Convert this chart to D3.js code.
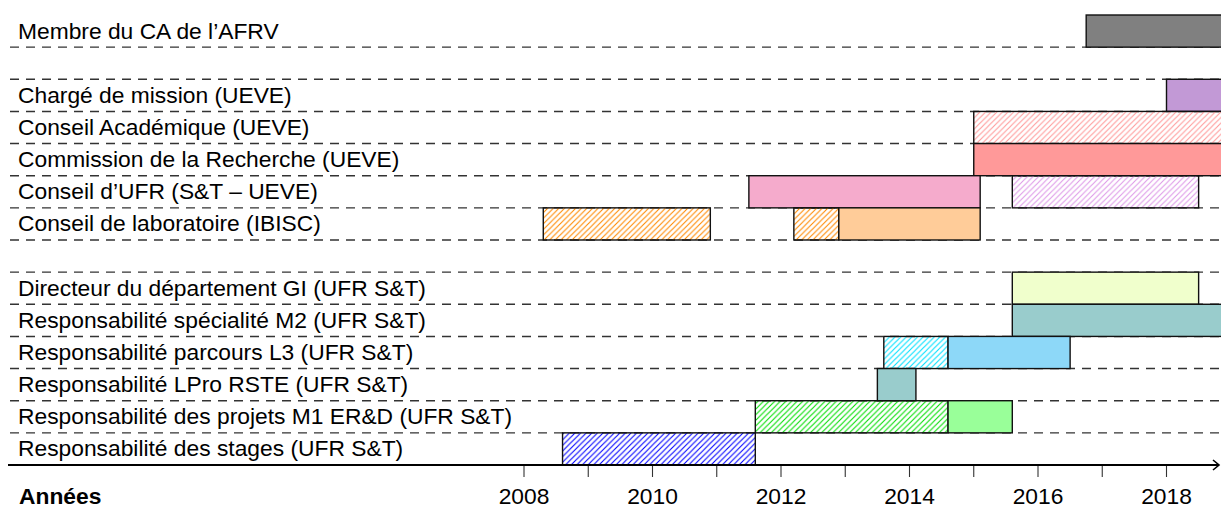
<!DOCTYPE html>
<html>
<head>
<meta charset="utf-8">
<script src="https://cdn.jsdelivr.net/npm/d3@7"></script>
<style>
  body { margin: 0; background: #fff; }
  svg { display: block; font-family: "Liberation Sans", Arial, Helvetica, sans-serif; }
</style>
</head>
<body>
<div id="chart"></div>
<script>
// rows from top to bottom, "" = empty spacer row
const rowLabels = [
  "Membre du CA de l’AFRV",
  "",
  "Chargé de mission (UEVE)",
  "Conseil Académique (UEVE)",
  "Commission de la Recherche (UEVE)",
  "Conseil d’UFR (S&T – UEVE)",
  "Conseil de laboratoire (IBISC)",
  "",
  "Directeur du département GI (UFR S&T)",
  "Responsabilité spécialité M2 (UFR S&T)",
  "Responsabilité parcours L3 (UFR S&T)",
  "Responsabilité LPro RSTE (UFR S&T)",
  "Responsabilité des projets M1 ER&D (UFR S&T)",
  "Responsabilité des stages (UFR S&T)"
];

const years = [2008, 2009, 2010, 2011, 2012, 2013, 2014, 2015, 2016, 2017, 2018];
const yearLabels = ["2008", "2010", "2012", "2014", "2016", "2018"];

// periods: row index, start, end, style key
const periodRow   = [0, 2, 3, 4, 5, 5, 6, 6, 6, 8, 9, 10, 10, 11, 12, 12, 13];
const periodStart = [2016.75, 2018.0, 2015.0, 2015.0, 2011.5, 2015.6, 2008.3, 2012.2, 2012.9,
                     2015.6, 2015.6, 2013.6, 2014.6, 2013.5, 2011.6, 2014.6, 2008.6];
const periodEnd   = [2019.5, 2019.5, 2019.5, 2019.5, 2015.1, 2018.5, 2010.9, 2012.9, 2015.1,
                     2018.5, 2019.5, 2014.6, 2016.5, 2014.1, 2014.6, 2015.6, 2011.6];
const periodStyle = ["afrv", "mission", "acaHatch", "recherche", "ufr", "ufrHatch", "laboHatch", "laboHatch", "labo",
                     "gi", "m2", "l3Hatch", "l3", "lpro", "m1Hatch", "m1", "stagesHatch"];

// look of each style
const styles = {
  afrv:        { color: "#808080", hatch: false },
  mission:     { color: "#c299d6", hatch: false },
  acaHatch:    { color: "#ff9999", hatch: true },
  recherche:   { color: "#ff9999", hatch: false },
  ufr:         { color: "#f5abcc", hatch: false },
  ufrHatch:    { color: "#dd99e8", hatch: true },
  laboHatch:   { color: "#ff8800", hatch: true },
  labo:        { color: "#ffcc99", hatch: false },
  gi:          { color: "#f0ffcc", hatch: false },
  m2:          { color: "#99cccc", hatch: false },
  l3Hatch:     { color: "#00e0ff", hatch: true },
  l3:          { color: "#8dd8f8", hatch: false },
  lpro:        { color: "#99cccc", hatch: false },
  m1Hatch:     { color: "#00dd00", hatch: true },
  m1:          { color: "#99ff99", hatch: false },
  stagesHatch: { color: "#0000ff", hatch: true }
};

const width = 1221, height = 508;
const fontSize = 22.8;

const svg = d3.select("#chart").append("svg")
  .attr("width", width)
  .attr("height", height)
  .attr("viewBox", `0 0 ${width} ${height}`);

const x = d3.scaleLinear().domain([2008, 2018]).range([524, 1166.5]);
const y = d3.scaleBand().domain(d3.range(rowLabels.length)).range([15, 465]).paddingInner(0).paddingOuter(0);

// hatch patterns, one per hatched style
const defs = svg.append("defs");
Object.entries(styles).filter(([k, s]) => s.hatch).forEach(([k, s]) => {
  const p = defs.append("pattern")
    .attr("id", "hatch-" + k)
    .attr("patternUnits", "userSpaceOnUse")
    .attr("width", 5.6)
    .attr("height", 5.6);
  p.append("path")
    .attr("d", "M-1,1 L1,-1 M0,5.6 L5.6,0 M4.6,6.6 L6.6,4.6")
    .attr("stroke", s.color)
    .attr("stroke-width", 1.1);
});

// dashed row separators (between rows, not top, not bottom)
const boundaries = d3.range(1, rowLabels.length).map(i => y(i));
svg.append("g")
  .selectAll("line")
  .data(boundaries)
  .join("line")
  .attr("x1", 10)
  .attr("x2", width)
  .attr("y1", d => d)
  .attr("y2", d => d)
  .attr("stroke", "#333")
  .attr("stroke-width", 1.4)
  .attr("stroke-dasharray", "9,7");

// row labels
svg.append("g")
  .selectAll("text")
  .data(rowLabels)
  .join("text")
  .attr("x", 18)
  .attr("y", (d, i) => y(i) + y.bandwidth() / 2 + 7.5)
  .attr("font-size", fontSize)
  .attr("fill", "#000")
  .text(d => d);

// bars
const periods = periodRow.map((r, i) => ({
  row: r, start: periodStart[i], end: periodEnd[i], style: periodStyle[i]
}));

svg.append("g")
  .selectAll("rect")
  .data(periods)
  .join("rect")
  .attr("x", d => x(d.start))
  .attr("y", d => y(d.row))
  .attr("width", d => x(d.end) - x(d.start))
  .attr("height", y.bandwidth())
  .attr("fill", d => styles[d.style].hatch ? `url(#hatch-${d.style})` : styles[d.style].color)
  .attr("stroke", "#111")
  .attr("stroke-width", 1.4);

// x axis
const axisY = 465;
const axis = svg.append("g");
axis.selectAll("line.tick")
  .data(years)
  .join("line")
  .attr("class", "tick")
  .attr("x1", d => x(d))
  .attr("x2", d => x(d))
  .attr("y1", axisY)
  .attr("y2", axisY + 12)
  .attr("stroke", "#333")
  .attr("stroke-width", 1.1);

axis.append("line")
  .attr("x1", 8)
  .attr("x2", 1219)
  .attr("y1", axisY)
  .attr("y2", axisY)
  .attr("stroke", "#000")
  .attr("stroke-width", 2);

axis.append("path")
  .attr("d", `M1213,${axisY - 5} L1219,${axisY} L1213,${axisY + 5}`)
  .attr("fill", "none")
  .attr("stroke", "#000")
  .attr("stroke-width", 1.6);

axis.selectAll("text.year")
  .data(yearLabels)
  .join("text")
  .attr("class", "year")
  .attr("x", d => x(+d))
  .attr("y", 504)
  .attr("text-anchor", "middle")
  .attr("font-size", fontSize)
  .text(d => d);

axis.append("text")
  .attr("x", 19)
  .attr("y", 504)
  .attr("font-size", fontSize)
  .attr("font-weight", "bold")
  .text("Années");
</script>
</body>
</html>
